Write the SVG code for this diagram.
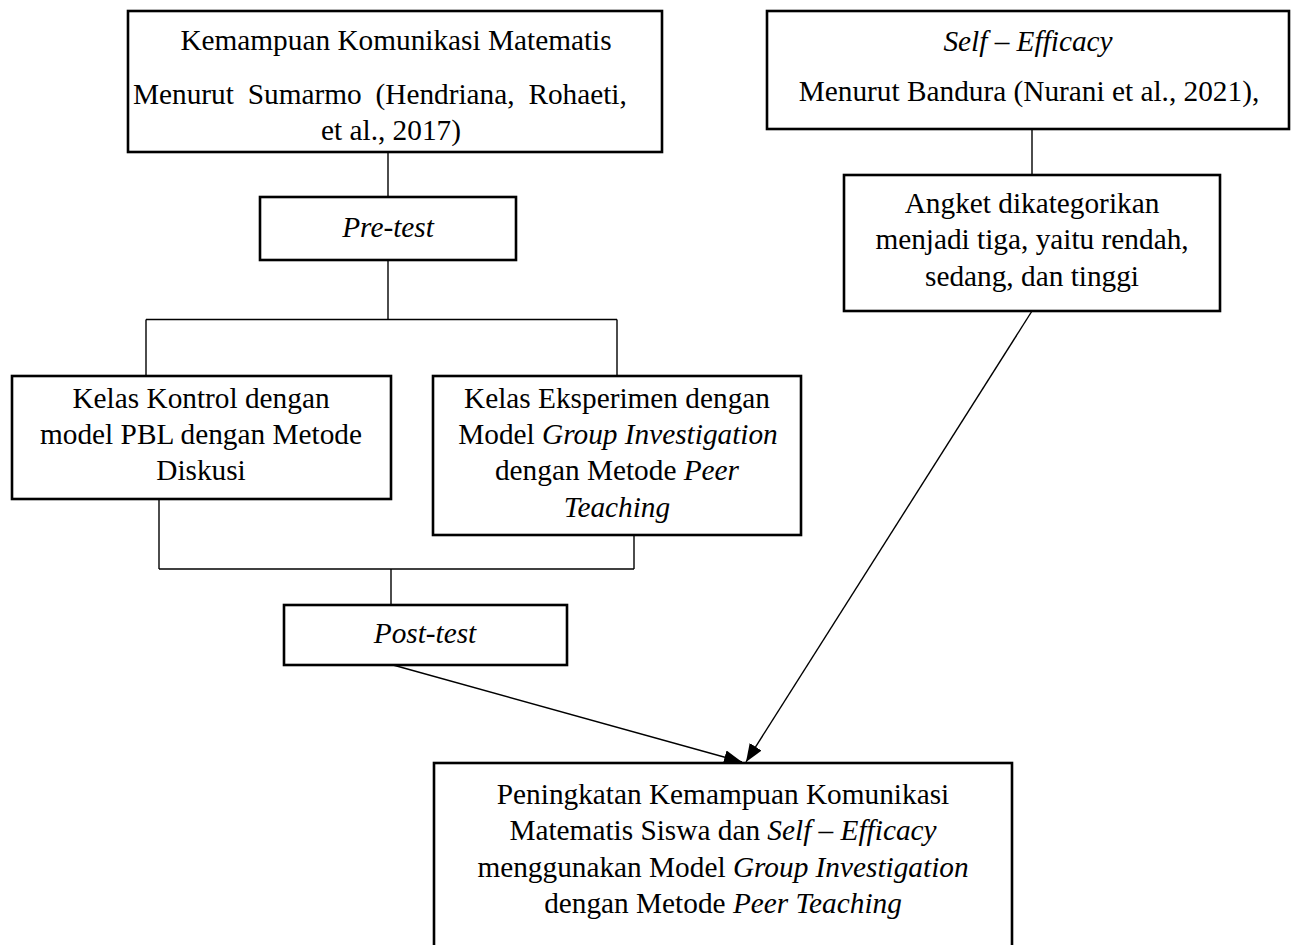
<svg xmlns="http://www.w3.org/2000/svg" width="1293" height="945" viewBox="0 0 1293 945">
  <style>
    .box { fill: #ffffff; stroke: #000000; stroke-width: 2.6; }
    .conn { fill: none; stroke: #000000; stroke-width: 1.4; }
    .t { font-family: "Liberation Serif", "Times New Roman", serif; font-size: 29.3px; fill: #000000; text-anchor: middle; }
    .i { font-style: italic; }
  </style>
  <defs>
    <marker id="arrow" markerUnits="userSpaceOnUse" markerWidth="20" markerHeight="16" refX="18" refY="7" orient="auto">
      <path d="M0,0 L18,7 L0,14 Z" fill="#000000"/>
    </marker>
  </defs>
  <rect x="0" y="0" width="1293" height="945" fill="#ffffff"/>

  <g id="connectors">
    <line class="conn" x1="388" y1="152" x2="388" y2="197"/>
    <line class="conn" x1="388" y1="260" x2="388" y2="319.5"/>
    <line class="conn" x1="146" y1="319.5" x2="617" y2="319.5"/>
    <line class="conn" x1="146" y1="319.5" x2="146" y2="376"/>
    <line class="conn" x1="617" y1="319.5" x2="617" y2="376"/>
    <line class="conn" x1="159" y1="499" x2="159" y2="569"/>
    <line class="conn" x1="634" y1="535" x2="634" y2="569"/>
    <line class="conn" x1="159" y1="569" x2="634" y2="569"/>
    <line class="conn" x1="391" y1="569" x2="391" y2="605"/>
    <line class="conn" x1="1032" y1="129" x2="1032" y2="175"/>
    <line class="conn" x1="393" y1="665" x2="742" y2="762" marker-end="url(#arrow)"/>
    <line class="conn" x1="1032" y1="311" x2="746" y2="762" marker-end="url(#arrow)"/>
  </g>

  <g id="node-kemampuan">
    <rect class="box" x="128" y="11" width="534" height="141"/>
    <text class="t" x="396" y="50">Kemampuan Komunikasi Matematis</text>
    <text class="t" x="133" y="104" style="text-anchor:start" word-spacing="6.5">Menurut Sumarmo (Hendriana, Rohaeti,</text>
    <text class="t" x="391" y="140">et al., 2017)</text>
  </g>

  <g id="node-selfefficacy">
    <rect class="box" x="767" y="11" width="522" height="118"/>
    <text class="t i" x="1028" y="51">Self – Efficacy</text>
    <text class="t" x="1029" y="101">Menurut Bandura (Nurani et al., 2021),</text>
  </g>

  <g id="node-angket">
    <rect class="box" x="844" y="175" width="376" height="136"/>
    <text class="t" x="1032" y="213">Angket dikategorikan</text>
    <text class="t" x="1032" y="249">menjadi tiga, yaitu rendah,</text>
    <text class="t" x="1032" y="286">sedang, dan tinggi</text>
  </g>

  <g id="node-pretest">
    <rect class="box" x="260" y="197" width="256" height="63"/>
    <text class="t i" x="388" y="237">Pre-test</text>
  </g>

  <g id="node-kontrol">
    <rect class="box" x="12" y="376" width="379" height="123"/>
    <text class="t" x="201" y="408">Kelas Kontrol dengan</text>
    <text class="t" x="201" y="444">model PBL dengan Metode</text>
    <text class="t" x="201" y="480">Diskusi</text>
  </g>

  <g id="node-eksperimen">
    <rect class="box" x="433" y="376" width="368" height="159"/>
    <text class="t" x="617" y="408">Kelas Eksperimen dengan</text>
    <text class="t" x="618" y="444">Model <tspan class="i">Group Investigation</tspan></text>
    <text class="t" x="617" y="480">dengan Metode <tspan class="i">Peer</tspan></text>
    <text class="t i" x="617" y="517">Teaching</text>
  </g>

  <g id="node-posttest">
    <rect class="box" x="284" y="605" width="283" height="60"/>
    <text class="t i" x="425" y="643">Post-test</text>
  </g>

  <g id="node-peningkatan">
    <rect class="box" x="434" y="763" width="578" height="200"/>
    <text class="t" x="723" y="804">Peningkatan Kemampuan Komunikasi</text>
    <text class="t" x="723" y="840">Matematis Siswa dan <tspan class="i">Self – Efficacy</tspan></text>
    <text class="t" x="723" y="877">menggunakan Model <tspan class="i">Group Investigation</tspan></text>
    <text class="t" x="723" y="913">dengan Metode <tspan class="i">Peer Teaching</tspan></text>
  </g>
</svg>
